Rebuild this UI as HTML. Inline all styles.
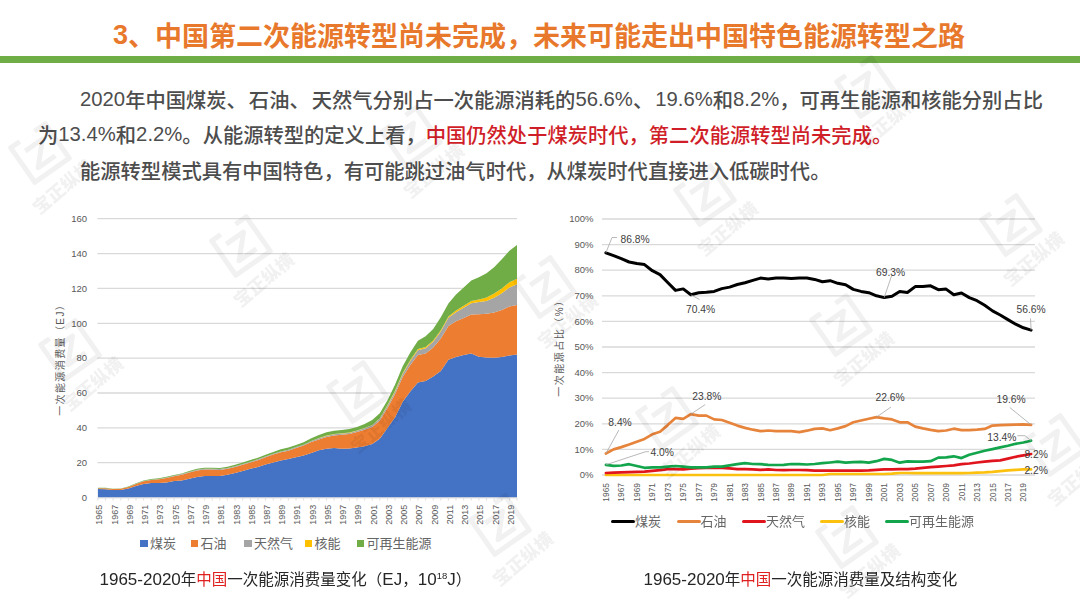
<!DOCTYPE html>
<html lang="zh-CN"><head><meta charset="utf-8"><title>中国第二次能源转型</title>
<style>
html,body{margin:0;padding:0;}
body{width:1080px;height:607px;position:relative;overflow:hidden;background:#fff;font-family:"Liberation Sans","Noto Sans CJK SC",sans-serif;}
.abs{position:absolute;white-space:nowrap;}
.title{left:113px;top:18.5px;font-size:27px;line-height:36px;font-weight:bold;color:#e8792c;}
.bar{left:0;top:55.6px;width:1080px;height:7px;background:#6fad47;}
.para{font-size:20.3px;line-height:34px;color:#4d4d4d;font-weight:500;}
.red{color:#d01e28;}
.d{position:relative;top:-2px;}
.pc{letter-spacing:2px;}
.d3{position:relative;top:-2px;}
.leg{font-size:13px;color:#666;line-height:16px;}
.sq{display:inline-block;width:7.6px;height:7.6px;vertical-align:middle;margin-right:2.5px;position:relative;top:-1px;}
.ln{display:inline-block;width:24px;height:3.6px;border-radius:2px;vertical-align:middle;position:relative;top:-0.5px;}
.cap{font-size:15.5px;color:#262626;line-height:20px;}
.cd{font-size:17px;position:relative;top:0px;}
.cap sup{font-size:9.5px;vertical-align:6px;line-height:0;}
.cap .red{color:#e02020;}
svg{position:absolute;left:0;top:0;}
svg text{font-family:"Liberation Sans","Noto Sans CJK SC",sans-serif;}
.ax{font-size:9.5px;fill:#595959;}
.ax2{font-size:8.4px;fill:#595959;}
.ax3{font-size:9px;fill:#595959;}
.yt{font-size:10px;fill:#595959;}
.dl{font-size:10.3px;fill:#404040;}
</style></head><body>
<div class="abs title"><span class="d3">3</span>、中国第二次能源转型尚未完成，未来可能走出中国特色能源转型之路</div>
<div class="abs bar"></div>
<div class="abs para" style="left:80px;top:83.5px;"><span class="d">2020</span>年中国煤炭<span class="pc">、</span>石油<span class="pc">、</span>天然气分别占一次能源消耗的<span class="d">56.6%</span><span class="pc">、</span><span class="d">19.6%</span>和<span class="d">8.2%</span>，可再生能源和核能分别占比</div>
<div class="abs para" style="left:38px;top:119px;">为<span class="d">13.4%</span>和<span class="d">2.2%</span>。从能源转型的定义上看，<span class="red">中国仍然处于煤炭时代，第二次能源转型尚未完成。</span></div>
<div class="abs para" style="left:80px;top:155px;">能源转型模式具有中国特色，有可能跳过油气时代，从煤炭时代直接进入低碳时代。</div>
<svg width="1080" height="607" viewBox="0 0 1080 607">
<g id="lc">
<line x1="97.4" y1="462.7" x2="517" y2="462.7" stroke="#d9d9d9" stroke-width="1.3"/>
<line x1="97.4" y1="427.9" x2="517" y2="427.9" stroke="#d9d9d9" stroke-width="1.3"/>
<line x1="97.4" y1="393" x2="517" y2="393" stroke="#d9d9d9" stroke-width="1.3"/>
<line x1="97.4" y1="358.2" x2="517" y2="358.2" stroke="#d9d9d9" stroke-width="1.3"/>
<line x1="97.4" y1="323.3" x2="517" y2="323.3" stroke="#d9d9d9" stroke-width="1.3"/>
<line x1="97.4" y1="288.4" x2="517" y2="288.4" stroke="#d9d9d9" stroke-width="1.3"/>
<line x1="97.4" y1="253.6" x2="517" y2="253.6" stroke="#d9d9d9" stroke-width="1.3"/>
<line x1="97.4" y1="218.7" x2="517" y2="218.7" stroke="#d9d9d9" stroke-width="1.3"/>
<text x="87" y="500.8" class="ax" text-anchor="end">0</text>
<text x="87" y="465.9" class="ax" text-anchor="end">20</text>
<text x="87" y="431.1" class="ax" text-anchor="end">40</text>
<text x="87" y="396.2" class="ax" text-anchor="end">60</text>
<text x="87" y="361.4" class="ax" text-anchor="end">80</text>
<text x="87" y="326.5" class="ax" text-anchor="end">100</text>
<text x="87" y="291.6" class="ax" text-anchor="end">120</text>
<text x="87" y="256.8" class="ax" text-anchor="end">140</text>
<text x="87" y="221.9" class="ax" text-anchor="end">160</text>
<path d="M97.9,489.1 L105.5,489.3 L113.1,490.1 L120.8,489.9 L128.4,488.6 L136,485.9 L143.6,484 L151.2,483.1 L158.9,483.1 L166.5,482.5 L174.1,481.1 L181.7,480.5 L189.3,478.8 L197,477.1 L204.6,476.1 L212.2,476 L219.8,475.9 L227.4,474.7 L235.1,473 L242.7,471 L250.3,468.8 L257.9,467.1 L265.5,464.6 L273.2,462.4 L280.8,460.6 L288.4,459 L296,457.2 L303.6,455.6 L311.3,452.9 L318.9,450.3 L326.5,448.8 L334.1,448.1 L341.7,448.7 L349.4,448.6 L357,447.4 L364.6,446.3 L372.2,444 L379.8,438.8 L387.5,428 L395.1,417.2 L402.7,401.7 L410.3,391.4 L417.9,382.5 L425.6,381.1 L433.2,376.6 L440.8,371 L448.4,359.8 L456,356.9 L463.7,355 L471.3,353.6 L478.9,356.7 L486.5,357.4 L494.1,357.7 L501.8,357.1 L509.4,355.5 L517,354.6 L517,497.6 L509.4,497.6 L501.8,497.6 L494.1,497.6 L486.5,497.6 L478.9,497.6 L471.3,497.6 L463.7,497.6 L456,497.6 L448.4,497.6 L440.8,497.6 L433.2,497.6 L425.6,497.6 L417.9,497.6 L410.3,497.6 L402.7,497.6 L395.1,497.6 L387.5,497.6 L379.8,497.6 L372.2,497.6 L364.6,497.6 L357,497.6 L349.4,497.6 L341.7,497.6 L334.1,497.6 L326.5,497.6 L318.9,497.6 L311.3,497.6 L303.6,497.6 L296,497.6 L288.4,497.6 L280.8,497.6 L273.2,497.6 L265.5,497.6 L257.9,497.6 L250.3,497.6 L242.7,497.6 L235.1,497.6 L227.4,497.6 L219.8,497.6 L212.2,497.6 L204.6,497.6 L197,497.6 L189.3,497.6 L181.7,497.6 L174.1,497.6 L166.5,497.6 L158.9,497.6 L151.2,497.6 L143.6,497.6 L136,497.6 L128.4,497.6 L120.8,497.6 L113.1,497.6 L105.5,497.6 L97.9,497.6Z" fill="#4472c4"/>
<path d="M97.9,488.3 L105.5,488.3 L113.1,489.1 L120.8,488.8 L128.4,487.1 L136,483.9 L143.6,481.3 L151.2,480 L158.9,479.3 L166.5,477.9 L174.1,476.2 L181.7,474.7 L189.3,472.6 L197,470.5 L204.6,469.6 L212.2,469.6 L219.8,469.9 L227.4,468.8 L235.1,466.9 L242.7,464.8 L250.3,462.4 L257.9,460.2 L265.5,457.2 L273.2,454.6 L280.8,452.3 L288.4,450.7 L296,448.1 L303.6,445.6 L311.3,442.1 L318.9,439.4 L326.5,437 L334.1,435.4 L341.7,434.8 L349.4,434 L357,431.9 L364.6,429.8 L372.2,426.9 L379.8,420.5 L387.5,408 L395.1,394 L402.7,377.1 L410.3,365.1 L417.9,355.1 L425.6,353.6 L433.2,347.6 L440.8,338.4 L448.4,325.9 L456,321.3 L463.7,317.9 L471.3,314.5 L478.9,314.2 L486.5,313.7 L494.1,312.5 L501.8,310.1 L509.4,306.6 L517,305 L517,354.6 L509.4,355.5 L501.8,357.1 L494.1,357.7 L486.5,357.4 L478.9,356.7 L471.3,353.6 L463.7,355 L456,356.9 L448.4,359.8 L440.8,371 L433.2,376.6 L425.6,381.1 L417.9,382.5 L410.3,391.4 L402.7,401.7 L395.1,417.2 L387.5,428 L379.8,438.8 L372.2,444 L364.6,446.3 L357,447.4 L349.4,448.6 L341.7,448.7 L334.1,448.1 L326.5,448.8 L318.9,450.3 L311.3,452.9 L303.6,455.6 L296,457.2 L288.4,459 L280.8,460.6 L273.2,462.4 L265.5,464.6 L257.9,467.1 L250.3,468.8 L242.7,471 L235.1,473 L227.4,474.7 L219.8,475.9 L212.2,476 L204.6,476.1 L197,477.1 L189.3,478.8 L181.7,480.5 L174.1,481.1 L166.5,482.5 L158.9,483.1 L151.2,483.1 L143.6,484 L136,485.9 L128.4,488.6 L120.8,489.9 L113.1,490.1 L105.5,489.3 L97.9,489.1Z" fill="#ed7d31"/>
<path d="M97.9,488.2 L105.5,488.2 L113.1,489 L120.8,488.7 L128.4,487 L136,483.7 L143.6,481 L151.2,479.7 L158.9,478.9 L166.5,477.4 L174.1,475.7 L181.7,474.1 L189.3,471.9 L197,469.7 L204.6,468.8 L212.2,468.8 L219.8,469.1 L227.4,468 L235.1,466.2 L242.7,464.1 L250.3,461.7 L257.9,459.3 L265.5,456.4 L273.2,453.8 L280.8,451.4 L288.4,449.7 L296,447.1 L303.6,444.7 L311.3,441.1 L318.9,438.3 L326.5,435.9 L334.1,434.3 L341.7,433.6 L349.4,432.9 L357,430.7 L364.6,428.3 L372.2,425.2 L379.8,418.6 L387.5,405.8 L395.1,391.4 L402.7,373.9 L410.3,361.1 L417.9,350.2 L425.6,348.3 L433.2,341.7 L440.8,331.6 L448.4,317.8 L456,312.2 L463.7,307.7 L471.3,303.2 L478.9,302.1 L486.5,300.9 L494.1,297.8 L501.8,293.2 L509.4,287.6 L517,284.3 L517,305 L509.4,306.6 L501.8,310.1 L494.1,312.5 L486.5,313.7 L478.9,314.2 L471.3,314.5 L463.7,317.9 L456,321.3 L448.4,325.9 L440.8,338.4 L433.2,347.6 L425.6,353.6 L417.9,355.1 L410.3,365.1 L402.7,377.1 L395.1,394 L387.5,408 L379.8,420.5 L372.2,426.9 L364.6,429.8 L357,431.9 L349.4,434 L341.7,434.8 L334.1,435.4 L326.5,437 L318.9,439.4 L311.3,442.1 L303.6,445.6 L296,448.1 L288.4,450.7 L280.8,452.3 L273.2,454.6 L265.5,457.2 L257.9,460.2 L250.3,462.4 L242.7,464.8 L235.1,466.9 L227.4,468.8 L219.8,469.9 L212.2,469.6 L204.6,469.6 L197,470.5 L189.3,472.6 L181.7,474.7 L174.1,476.2 L166.5,477.9 L158.9,479.3 L151.2,480 L143.6,481.3 L136,483.9 L128.4,487.1 L120.8,488.8 L113.1,489.1 L105.5,488.3 L97.9,488.3Z" fill="#a5a5a5"/>
<path d="M97.9,488.2 L105.5,488.2 L113.1,489 L120.8,488.7 L128.4,487 L136,483.7 L143.6,481 L151.2,479.7 L158.9,478.9 L166.5,477.4 L174.1,475.7 L181.7,474.1 L189.3,471.9 L197,469.7 L204.6,468.8 L212.2,468.8 L219.8,469.1 L227.4,468 L235.1,466.2 L242.7,464.1 L250.3,461.7 L257.9,459.3 L265.5,456.4 L273.2,453.8 L280.8,451.4 L288.4,449.7 L296,447.1 L303.6,444.7 L311.3,441.1 L318.9,438.1 L326.5,435.6 L334.1,434 L341.7,433.3 L349.4,432.6 L357,430.4 L364.6,428 L372.2,424.9 L379.8,418.2 L387.5,405 L395.1,390.5 L402.7,373 L410.3,360.1 L417.9,349.1 L425.6,347.1 L433.2,340.6 L440.8,330.3 L448.4,316.4 L456,310.6 L463.7,305.8 L471.3,301.1 L478.9,299.5 L486.5,297.5 L494.1,293.6 L501.8,288.4 L509.4,282.2 L517,278.7 L517,284.3 L509.4,287.6 L501.8,293.2 L494.1,297.8 L486.5,300.9 L478.9,302.1 L471.3,303.2 L463.7,307.7 L456,312.2 L448.4,317.8 L440.8,331.6 L433.2,341.7 L425.6,348.3 L417.9,350.2 L410.3,361.1 L402.7,373.9 L395.1,391.4 L387.5,405.8 L379.8,418.6 L372.2,425.2 L364.6,428.3 L357,430.7 L349.4,432.9 L341.7,433.6 L334.1,434.3 L326.5,435.9 L318.9,438.3 L311.3,441.1 L303.6,444.7 L296,447.1 L288.4,449.7 L280.8,451.4 L273.2,453.8 L265.5,456.4 L257.9,459.3 L250.3,461.7 L242.7,464.1 L235.1,466.2 L227.4,468 L219.8,469.1 L212.2,468.8 L204.6,468.8 L197,469.7 L189.3,471.9 L181.7,474.1 L174.1,475.7 L166.5,477.4 L158.9,478.9 L151.2,479.7 L143.6,481 L136,483.7 L128.4,487 L120.8,488.7 L113.1,489 L105.5,488.2 L97.9,488.2Z" fill="#ffc000"/>
<path d="M97.9,487.8 L105.5,487.8 L113.1,488.7 L120.8,488.4 L128.4,486.6 L136,483.3 L143.6,480.5 L151.2,479.1 L158.9,478.3 L166.5,476.7 L174.1,474.9 L181.7,473.4 L189.3,471.1 L197,468.8 L204.6,467.8 L212.2,467.8 L219.8,468 L227.4,466.7 L235.1,464.7 L242.7,462.6 L250.3,460.1 L257.9,457.7 L265.5,454.7 L273.2,451.9 L280.8,449.3 L288.4,447.6 L296,445 L303.6,442.3 L311.3,438.3 L318.9,435 L326.5,432.2 L334.1,430.8 L341.7,430 L349.4,429.1 L357,427 L364.6,424 L372.2,420 L379.8,413.2 L387.5,400.3 L395.1,384.5 L402.7,366.2 L410.3,352.6 L417.9,340.7 L425.6,336.2 L433.2,329.1 L440.8,317.2 L448.4,303.6 L456,294.5 L463.7,287.6 L471.3,280.4 L478.9,277.3 L486.5,273.3 L494.1,267.3 L501.8,259.3 L509.4,250.8 L517,244.9 L517,278.7 L509.4,282.2 L501.8,288.4 L494.1,293.6 L486.5,297.5 L478.9,299.5 L471.3,301.1 L463.7,305.8 L456,310.6 L448.4,316.4 L440.8,330.3 L433.2,340.6 L425.6,347.1 L417.9,349.1 L410.3,360.1 L402.7,373 L395.1,390.5 L387.5,405 L379.8,418.2 L372.2,424.9 L364.6,428 L357,430.4 L349.4,432.6 L341.7,433.3 L334.1,434 L326.5,435.6 L318.9,438.1 L311.3,441.1 L303.6,444.7 L296,447.1 L288.4,449.7 L280.8,451.4 L273.2,453.8 L265.5,456.4 L257.9,459.3 L250.3,461.7 L242.7,464.1 L235.1,466.2 L227.4,468 L219.8,469.1 L212.2,468.8 L204.6,468.8 L197,469.7 L189.3,471.9 L181.7,474.1 L174.1,475.7 L166.5,477.4 L158.9,478.9 L151.2,479.7 L143.6,481 L136,483.7 L128.4,487 L120.8,488.7 L113.1,489 L105.5,488.2 L97.9,488.2Z" fill="#70ad47"/>
<line x1="97.9" y1="497.9" x2="517" y2="497.9" stroke="#d9d9d9" stroke-width="1"/>
<line x1="97.9" y1="497.6" x2="97.9" y2="500.6" stroke="#d9d9d9" stroke-width="0.8"/>
<line x1="105.5" y1="497.6" x2="105.5" y2="500.6" stroke="#d9d9d9" stroke-width="0.8"/>
<line x1="113.1" y1="497.6" x2="113.1" y2="500.6" stroke="#d9d9d9" stroke-width="0.8"/>
<line x1="120.8" y1="497.6" x2="120.8" y2="500.6" stroke="#d9d9d9" stroke-width="0.8"/>
<line x1="128.4" y1="497.6" x2="128.4" y2="500.6" stroke="#d9d9d9" stroke-width="0.8"/>
<line x1="136" y1="497.6" x2="136" y2="500.6" stroke="#d9d9d9" stroke-width="0.8"/>
<line x1="143.6" y1="497.6" x2="143.6" y2="500.6" stroke="#d9d9d9" stroke-width="0.8"/>
<line x1="151.2" y1="497.6" x2="151.2" y2="500.6" stroke="#d9d9d9" stroke-width="0.8"/>
<line x1="158.9" y1="497.6" x2="158.9" y2="500.6" stroke="#d9d9d9" stroke-width="0.8"/>
<line x1="166.5" y1="497.6" x2="166.5" y2="500.6" stroke="#d9d9d9" stroke-width="0.8"/>
<line x1="174.1" y1="497.6" x2="174.1" y2="500.6" stroke="#d9d9d9" stroke-width="0.8"/>
<line x1="181.7" y1="497.6" x2="181.7" y2="500.6" stroke="#d9d9d9" stroke-width="0.8"/>
<line x1="189.3" y1="497.6" x2="189.3" y2="500.6" stroke="#d9d9d9" stroke-width="0.8"/>
<line x1="197" y1="497.6" x2="197" y2="500.6" stroke="#d9d9d9" stroke-width="0.8"/>
<line x1="204.6" y1="497.6" x2="204.6" y2="500.6" stroke="#d9d9d9" stroke-width="0.8"/>
<line x1="212.2" y1="497.6" x2="212.2" y2="500.6" stroke="#d9d9d9" stroke-width="0.8"/>
<line x1="219.8" y1="497.6" x2="219.8" y2="500.6" stroke="#d9d9d9" stroke-width="0.8"/>
<line x1="227.4" y1="497.6" x2="227.4" y2="500.6" stroke="#d9d9d9" stroke-width="0.8"/>
<line x1="235.1" y1="497.6" x2="235.1" y2="500.6" stroke="#d9d9d9" stroke-width="0.8"/>
<line x1="242.7" y1="497.6" x2="242.7" y2="500.6" stroke="#d9d9d9" stroke-width="0.8"/>
<line x1="250.3" y1="497.6" x2="250.3" y2="500.6" stroke="#d9d9d9" stroke-width="0.8"/>
<line x1="257.9" y1="497.6" x2="257.9" y2="500.6" stroke="#d9d9d9" stroke-width="0.8"/>
<line x1="265.5" y1="497.6" x2="265.5" y2="500.6" stroke="#d9d9d9" stroke-width="0.8"/>
<line x1="273.2" y1="497.6" x2="273.2" y2="500.6" stroke="#d9d9d9" stroke-width="0.8"/>
<line x1="280.8" y1="497.6" x2="280.8" y2="500.6" stroke="#d9d9d9" stroke-width="0.8"/>
<line x1="288.4" y1="497.6" x2="288.4" y2="500.6" stroke="#d9d9d9" stroke-width="0.8"/>
<line x1="296" y1="497.6" x2="296" y2="500.6" stroke="#d9d9d9" stroke-width="0.8"/>
<line x1="303.6" y1="497.6" x2="303.6" y2="500.6" stroke="#d9d9d9" stroke-width="0.8"/>
<line x1="311.3" y1="497.6" x2="311.3" y2="500.6" stroke="#d9d9d9" stroke-width="0.8"/>
<line x1="318.9" y1="497.6" x2="318.9" y2="500.6" stroke="#d9d9d9" stroke-width="0.8"/>
<line x1="326.5" y1="497.6" x2="326.5" y2="500.6" stroke="#d9d9d9" stroke-width="0.8"/>
<line x1="334.1" y1="497.6" x2="334.1" y2="500.6" stroke="#d9d9d9" stroke-width="0.8"/>
<line x1="341.7" y1="497.6" x2="341.7" y2="500.6" stroke="#d9d9d9" stroke-width="0.8"/>
<line x1="349.4" y1="497.6" x2="349.4" y2="500.6" stroke="#d9d9d9" stroke-width="0.8"/>
<line x1="357" y1="497.6" x2="357" y2="500.6" stroke="#d9d9d9" stroke-width="0.8"/>
<line x1="364.6" y1="497.6" x2="364.6" y2="500.6" stroke="#d9d9d9" stroke-width="0.8"/>
<line x1="372.2" y1="497.6" x2="372.2" y2="500.6" stroke="#d9d9d9" stroke-width="0.8"/>
<line x1="379.8" y1="497.6" x2="379.8" y2="500.6" stroke="#d9d9d9" stroke-width="0.8"/>
<line x1="387.5" y1="497.6" x2="387.5" y2="500.6" stroke="#d9d9d9" stroke-width="0.8"/>
<line x1="395.1" y1="497.6" x2="395.1" y2="500.6" stroke="#d9d9d9" stroke-width="0.8"/>
<line x1="402.7" y1="497.6" x2="402.7" y2="500.6" stroke="#d9d9d9" stroke-width="0.8"/>
<line x1="410.3" y1="497.6" x2="410.3" y2="500.6" stroke="#d9d9d9" stroke-width="0.8"/>
<line x1="417.9" y1="497.6" x2="417.9" y2="500.6" stroke="#d9d9d9" stroke-width="0.8"/>
<line x1="425.6" y1="497.6" x2="425.6" y2="500.6" stroke="#d9d9d9" stroke-width="0.8"/>
<line x1="433.2" y1="497.6" x2="433.2" y2="500.6" stroke="#d9d9d9" stroke-width="0.8"/>
<line x1="440.8" y1="497.6" x2="440.8" y2="500.6" stroke="#d9d9d9" stroke-width="0.8"/>
<line x1="448.4" y1="497.6" x2="448.4" y2="500.6" stroke="#d9d9d9" stroke-width="0.8"/>
<line x1="456" y1="497.6" x2="456" y2="500.6" stroke="#d9d9d9" stroke-width="0.8"/>
<line x1="463.7" y1="497.6" x2="463.7" y2="500.6" stroke="#d9d9d9" stroke-width="0.8"/>
<line x1="471.3" y1="497.6" x2="471.3" y2="500.6" stroke="#d9d9d9" stroke-width="0.8"/>
<line x1="478.9" y1="497.6" x2="478.9" y2="500.6" stroke="#d9d9d9" stroke-width="0.8"/>
<line x1="486.5" y1="497.6" x2="486.5" y2="500.6" stroke="#d9d9d9" stroke-width="0.8"/>
<line x1="494.1" y1="497.6" x2="494.1" y2="500.6" stroke="#d9d9d9" stroke-width="0.8"/>
<line x1="501.8" y1="497.6" x2="501.8" y2="500.6" stroke="#d9d9d9" stroke-width="0.8"/>
<line x1="509.4" y1="497.6" x2="509.4" y2="500.6" stroke="#d9d9d9" stroke-width="0.8"/>
<line x1="517" y1="497.6" x2="517" y2="500.6" stroke="#d9d9d9" stroke-width="0.8"/>
<text transform="translate(102.3,504.8) rotate(-90)" class="ax3" text-anchor="end">1965</text>
<text transform="translate(117.5,504.8) rotate(-90)" class="ax3" text-anchor="end">1967</text>
<text transform="translate(132.8,504.8) rotate(-90)" class="ax3" text-anchor="end">1969</text>
<text transform="translate(148,504.8) rotate(-90)" class="ax3" text-anchor="end">1971</text>
<text transform="translate(163.3,504.8) rotate(-90)" class="ax3" text-anchor="end">1973</text>
<text transform="translate(178.5,504.8) rotate(-90)" class="ax3" text-anchor="end">1975</text>
<text transform="translate(193.7,504.8) rotate(-90)" class="ax3" text-anchor="end">1977</text>
<text transform="translate(209,504.8) rotate(-90)" class="ax3" text-anchor="end">1979</text>
<text transform="translate(224.2,504.8) rotate(-90)" class="ax3" text-anchor="end">1981</text>
<text transform="translate(239.5,504.8) rotate(-90)" class="ax3" text-anchor="end">1983</text>
<text transform="translate(254.7,504.8) rotate(-90)" class="ax3" text-anchor="end">1985</text>
<text transform="translate(269.9,504.8) rotate(-90)" class="ax3" text-anchor="end">1987</text>
<text transform="translate(285.2,504.8) rotate(-90)" class="ax3" text-anchor="end">1989</text>
<text transform="translate(300.4,504.8) rotate(-90)" class="ax3" text-anchor="end">1991</text>
<text transform="translate(315.7,504.8) rotate(-90)" class="ax3" text-anchor="end">1993</text>
<text transform="translate(330.9,504.8) rotate(-90)" class="ax3" text-anchor="end">1995</text>
<text transform="translate(346.1,504.8) rotate(-90)" class="ax3" text-anchor="end">1997</text>
<text transform="translate(361.4,504.8) rotate(-90)" class="ax3" text-anchor="end">1999</text>
<text transform="translate(376.6,504.8) rotate(-90)" class="ax3" text-anchor="end">2001</text>
<text transform="translate(391.9,504.8) rotate(-90)" class="ax3" text-anchor="end">2003</text>
<text transform="translate(407.1,504.8) rotate(-90)" class="ax3" text-anchor="end">2005</text>
<text transform="translate(422.3,504.8) rotate(-90)" class="ax3" text-anchor="end">2007</text>
<text transform="translate(437.6,504.8) rotate(-90)" class="ax3" text-anchor="end">2009</text>
<text transform="translate(452.8,504.8) rotate(-90)" class="ax3" text-anchor="end">2011</text>
<text transform="translate(468.1,504.8) rotate(-90)" class="ax3" text-anchor="end">2013</text>
<text transform="translate(483.3,504.8) rotate(-90)" class="ax3" text-anchor="end">2015</text>
<text transform="translate(498.5,504.8) rotate(-90)" class="ax3" text-anchor="end">2017</text>
<text transform="translate(513.8,504.8) rotate(-90)" class="ax3" text-anchor="end">2019</text>
<text transform="translate(64,357.3) rotate(-90)" class="yt" text-anchor="middle" letter-spacing="1.4">一次能源消费量（EJ）</text>
</g>
<g id="rc">
<line x1="602" y1="475" x2="1035" y2="475" stroke="#d9d9d9" stroke-width="1.3"/>
<text x="593.5" y="478.2" class="ax" text-anchor="end">0%</text>
<line x1="602" y1="449.4" x2="1035" y2="449.4" stroke="#d9d9d9" stroke-width="1.3"/>
<text x="593.5" y="452.6" class="ax" text-anchor="end">10%</text>
<line x1="602" y1="423.8" x2="1035" y2="423.8" stroke="#d9d9d9" stroke-width="1.3"/>
<text x="593.5" y="427" class="ax" text-anchor="end">20%</text>
<line x1="602" y1="398.2" x2="1035" y2="398.2" stroke="#d9d9d9" stroke-width="1.3"/>
<text x="593.5" y="401.4" class="ax" text-anchor="end">30%</text>
<line x1="602" y1="372.6" x2="1035" y2="372.6" stroke="#d9d9d9" stroke-width="1.3"/>
<text x="593.5" y="375.8" class="ax" text-anchor="end">40%</text>
<line x1="602" y1="347" x2="1035" y2="347" stroke="#d9d9d9" stroke-width="1.3"/>
<text x="593.5" y="350.2" class="ax" text-anchor="end">50%</text>
<line x1="602" y1="321.4" x2="1035" y2="321.4" stroke="#d9d9d9" stroke-width="1.3"/>
<text x="593.5" y="324.6" class="ax" text-anchor="end">60%</text>
<line x1="602" y1="295.8" x2="1035" y2="295.8" stroke="#d9d9d9" stroke-width="1.3"/>
<text x="593.5" y="299" class="ax" text-anchor="end">70%</text>
<line x1="602" y1="270.2" x2="1035" y2="270.2" stroke="#d9d9d9" stroke-width="1.3"/>
<text x="593.5" y="273.4" class="ax" text-anchor="end">80%</text>
<line x1="602" y1="244.6" x2="1035" y2="244.6" stroke="#d9d9d9" stroke-width="1.3"/>
<text x="593.5" y="247.8" class="ax" text-anchor="end">90%</text>
<line x1="602" y1="219" x2="1035" y2="219" stroke="#d9d9d9" stroke-width="1.3"/>
<text x="593.5" y="222.2" class="ax" text-anchor="end">100%</text>
<text transform="translate(608.9,483) rotate(-90)" class="ax2" text-anchor="end">1965</text>
<text transform="translate(624.3,483) rotate(-90)" class="ax2" text-anchor="end">1967</text>
<text transform="translate(639.8,483) rotate(-90)" class="ax2" text-anchor="end">1969</text>
<text transform="translate(655.3,483) rotate(-90)" class="ax2" text-anchor="end">1971</text>
<text transform="translate(670.7,483) rotate(-90)" class="ax2" text-anchor="end">1973</text>
<text transform="translate(686.2,483) rotate(-90)" class="ax2" text-anchor="end">1975</text>
<text transform="translate(701.7,483) rotate(-90)" class="ax2" text-anchor="end">1977</text>
<text transform="translate(717.1,483) rotate(-90)" class="ax2" text-anchor="end">1979</text>
<text transform="translate(732.6,483) rotate(-90)" class="ax2" text-anchor="end">1981</text>
<text transform="translate(748,483) rotate(-90)" class="ax2" text-anchor="end">1983</text>
<text transform="translate(763.5,483) rotate(-90)" class="ax2" text-anchor="end">1985</text>
<text transform="translate(779,483) rotate(-90)" class="ax2" text-anchor="end">1987</text>
<text transform="translate(794.4,483) rotate(-90)" class="ax2" text-anchor="end">1989</text>
<text transform="translate(809.9,483) rotate(-90)" class="ax2" text-anchor="end">1991</text>
<text transform="translate(825.4,483) rotate(-90)" class="ax2" text-anchor="end">1993</text>
<text transform="translate(840.8,483) rotate(-90)" class="ax2" text-anchor="end">1995</text>
<text transform="translate(856.3,483) rotate(-90)" class="ax2" text-anchor="end">1997</text>
<text transform="translate(871.8,483) rotate(-90)" class="ax2" text-anchor="end">1999</text>
<text transform="translate(887.2,483) rotate(-90)" class="ax2" text-anchor="end">2001</text>
<text transform="translate(902.7,483) rotate(-90)" class="ax2" text-anchor="end">2003</text>
<text transform="translate(918.2,483) rotate(-90)" class="ax2" text-anchor="end">2005</text>
<text transform="translate(933.6,483) rotate(-90)" class="ax2" text-anchor="end">2007</text>
<text transform="translate(949.1,483) rotate(-90)" class="ax2" text-anchor="end">2009</text>
<text transform="translate(964.5,483) rotate(-90)" class="ax2" text-anchor="end">2011</text>
<text transform="translate(980,483) rotate(-90)" class="ax2" text-anchor="end">2013</text>
<text transform="translate(995.5,483) rotate(-90)" class="ax2" text-anchor="end">2015</text>
<text transform="translate(1010.9,483) rotate(-90)" class="ax2" text-anchor="end">2017</text>
<text transform="translate(1026.4,483) rotate(-90)" class="ax2" text-anchor="end">2019</text>
<text transform="translate(563,345.6) rotate(-90)" class="yt" text-anchor="middle" letter-spacing="1.5">一次能源占比（%）</text>
<path d="M605.9,475 L613.6,475 L621.3,475 L629.1,475 L636.8,475 L644.5,475 L652.3,475 L660,475 L667.7,475 L675.5,475 L683.2,475 L690.9,475 L698.7,475 L706.4,475 L714.1,475 L721.8,475 L729.6,475 L737.3,475 L745,475 L752.8,475 L760.5,475 L768.2,475 L776,475 L783.7,475 L791.4,475 L799.2,475 L806.9,475 L814.6,475 L822.4,475 L830.1,474 L837.8,474 L845.6,474 L853.3,474 L861,474 L868.8,474 L876.5,474 L884.2,474 L892,473.7 L899.7,473 L907.4,473 L915.2,473.2 L922.9,473.2 L930.6,473.2 L938.3,473.2 L946.1,473.2 L953.8,473.2 L961.5,473.2 L969.3,473 L977,472.7 L984.7,472.4 L992.5,471.9 L1000.2,471.2 L1007.9,470.4 L1015.7,469.9 L1023.4,469.4 L1031.1,469.4" fill="none" stroke="#fcc10e" stroke-width="2.7" stroke-linejoin="round" stroke-linecap="round"/>
<path d="M605.9,473 L613.6,472.7 L621.3,472.4 L629.1,472.2 L636.8,471.9 L644.5,471.7 L652.3,470.9 L660,470.1 L667.7,469.1 L675.5,469.1 L683.2,469.4 L690.9,468.6 L698.7,468.1 L706.4,467.8 L714.1,467.8 L721.8,467.8 L729.6,468.3 L737.3,469.1 L745,469.1 L752.8,469.4 L760.5,469.9 L768.2,469.4 L776,470 L783.7,470.1 L791.4,470 L799.2,470 L806.9,470.1 L814.6,470.6 L822.4,470.6 L830.1,470.6 L837.8,470.6 L845.6,470.6 L853.3,470.6 L861,470.6 L868.8,470.4 L876.5,469.9 L884.2,469.4 L892,469.4 L899.7,469.1 L907.4,469.1 L915.2,468.6 L922.9,467.8 L930.6,467.1 L938.3,466.6 L946.1,466 L953.8,465.3 L961.5,464.2 L969.3,463.5 L977,462.5 L984.7,461.7 L992.5,460.9 L1000.2,460.4 L1007.9,458.6 L1015.7,456.8 L1023.4,455.3 L1031.1,454" fill="none" stroke="#e0141c" stroke-width="2.7" stroke-linejoin="round" stroke-linecap="round"/>
<path d="M605.9,464.8 L613.6,465.8 L621.3,465.5 L629.1,464.2 L636.8,466 L644.5,467.8 L652.3,467.3 L660,467.3 L667.7,466.6 L675.5,466 L683.2,466.6 L690.9,467.3 L698.7,467.3 L706.4,467.3 L714.1,466.6 L721.8,466.6 L729.6,465.3 L737.3,464.2 L745,463.2 L752.8,464 L760.5,464.2 L768.2,464.8 L776,465 L783.7,464.8 L791.4,464 L799.2,464.2 L806.9,464.5 L814.6,464 L822.4,463.2 L830.1,462.5 L837.8,461.7 L845.6,462.7 L853.3,462.2 L861,461.9 L868.8,462.7 L876.5,461.2 L884.2,458.9 L892,459.9 L899.7,462.7 L907.4,461.4 L915.2,461.7 L922.9,461.7 L930.6,461.2 L938.3,457.6 L946.1,457.3 L953.8,456.3 L961.5,458.1 L969.3,454.8 L977,452.7 L984.7,450.7 L992.5,449.1 L1000.2,447.4 L1007.9,445.8 L1015.7,443.8 L1023.4,442.5 L1031.1,440.7" fill="none" stroke="#12a54b" stroke-width="2.7" stroke-linejoin="round" stroke-linecap="round"/>
<path d="M605.9,453.5 L613.6,449.4 L621.3,447.1 L629.1,444.5 L636.8,441.7 L644.5,438.9 L652.3,434.3 L660,431.7 L667.7,425.1 L675.5,417.9 L683.2,418.9 L690.9,414.1 L698.7,415.6 L706.4,415.6 L714.1,419.4 L721.8,420 L729.6,422.8 L737.3,425.6 L745,427.9 L752.8,429.7 L760.5,431.2 L768.2,430.5 L776,431.2 L783.7,431.2 L791.4,431.2 L799.2,432.2 L806.9,430.7 L814.6,428.9 L822.4,428.4 L830.1,430.2 L837.8,428.4 L845.6,426.1 L853.3,422.3 L861,420.5 L868.8,418.7 L876.5,417.1 L884.2,418.4 L892,419.4 L899.7,422.3 L907.4,422.3 L915.2,426.6 L922.9,428.4 L930.6,429.9 L938.3,431.2 L946.1,430.5 L953.8,428.7 L961.5,430.2 L969.3,430.2 L977,429.7 L984.7,428.9 L992.5,425.6 L1000.2,425.1 L1007.9,424.8 L1015.7,424.6 L1023.4,424.3 L1031.1,424.8" fill="none" stroke="#e7843c" stroke-width="2.7" stroke-linejoin="round" stroke-linecap="round"/>
<path d="M605.9,252.8 L613.6,255.6 L621.3,258.7 L629.1,262 L636.8,263.5 L644.5,264.6 L652.3,270.7 L660,274.6 L667.7,282.5 L675.5,290.4 L683.2,288.9 L690.9,294.8 L698.7,292.7 L706.4,292.2 L714.1,291.4 L721.8,288.6 L729.6,287.1 L737.3,284.5 L745,282.7 L752.8,280.4 L760.5,278.1 L768.2,278.9 L776,277.9 L783.7,277.9 L791.4,278.4 L799.2,277.9 L806.9,278.1 L814.6,279.4 L822.4,281.7 L830.1,280.7 L837.8,283.3 L845.6,284.8 L853.3,289.4 L861,291.4 L868.8,292.7 L876.5,295.8 L884.2,297.6 L892,296.3 L899.7,291.4 L907.4,292.5 L915.2,286.6 L922.9,286.6 L930.6,285.8 L938.3,289.7 L946.1,289.1 L953.8,294.8 L961.5,293 L969.3,297.6 L977,300.7 L984.7,305.3 L992.5,310.9 L1000.2,315 L1007.9,319.6 L1015.7,324.2 L1023.4,327.8 L1031.1,330.1" fill="none" stroke="#000000" stroke-width="3.0" stroke-linejoin="round" stroke-linecap="round"/>
<path d="M605.9,252.8 L612,237.5 L617,237.5" fill="none" stroke="#a6a6a6" stroke-width="0.8"/>
<text x="620.5" y="242.5" class="dl">86.8%</text>
<path d="M690.9,294.8 L699.5,299.5" fill="none" stroke="#a6a6a6" stroke-width="0.8"/>
<text x="686" y="313" class="dl">70.4%</text>
<path d="M884.2,297.6 L891.5,276" fill="none" stroke="#a6a6a6" stroke-width="0.8"/>
<text x="876" y="275.5" class="dl">69.3%</text>
<path d="M1031.1,330.1 L1030.5,318.4" fill="none" stroke="#a6a6a6" stroke-width="0.8"/>
<text x="1016.5" y="313.3" class="dl">56.6%</text>
<path d="M605.9,453.5 L618.9,430" fill="none" stroke="#a6a6a6" stroke-width="0.8"/>
<text x="608.3" y="425.5" class="dl">8.4%</text>
<path d="M605.9,464.8 L645.6,451.7 L649,451.7" fill="none" stroke="#a6a6a6" stroke-width="0.8"/>
<text x="650.5" y="456" class="dl">4.0%</text>
<path d="M690.9,414.1 L705.2,404.6" fill="none" stroke="#a6a6a6" stroke-width="0.8"/>
<text x="692.2" y="399.8" class="dl">23.8%</text>
<path d="M876.5,417.1 L891,407" fill="none" stroke="#a6a6a6" stroke-width="0.8"/>
<text x="875.5" y="400.5" class="dl">22.6%</text>
<path d="M1031.1,424.8 L1009.8,407.5" fill="none" stroke="#a6a6a6" stroke-width="0.8"/>
<text x="996.5" y="402.5" class="dl">19.6%</text>
<path d="M1031.1,440.7 L1025,435.7 L1017.3,435.7" fill="none" stroke="#a6a6a6" stroke-width="0.8"/>
<text x="987.3" y="440.5" class="dl">13.4%</text>
<path d="M" fill="none" stroke="#a6a6a6" stroke-width="0.8"/>
<text x="1024.4" y="458" class="dl">8.2%</text>
<path d="M" fill="none" stroke="#a6a6a6" stroke-width="0.8"/>
<text x="1024.4" y="474" class="dl">2.2%</text>
</g>
<g id="wm" opacity="0.055">
<g transform="translate(40,153) rotate(-35)"><path d="M-10,-21 L-21,-21 L-21,21 L21,21 L21,-21 L8,-21 M-11,-10 L10,-10 L-10,11 L11,11" fill="none" stroke="#000" stroke-width="5" stroke-linejoin="round"/></g>
<text transform="translate(67,192) rotate(-40)" text-anchor="middle" font-size="18" font-weight="900" fill="#000">宝正纵横</text>
<g transform="translate(241,246) rotate(-35)"><path d="M-10,-21 L-21,-21 L-21,21 L21,21 L21,-21 L8,-21 M-11,-10 L10,-10 L-10,11 L11,11" fill="none" stroke="#000" stroke-width="5" stroke-linejoin="round"/></g>
<text transform="translate(268,285) rotate(-40)" text-anchor="middle" font-size="18" font-weight="900" fill="#000">宝正纵横</text>
<g transform="translate(411,137) rotate(-35)"><path d="M-10,-21 L-21,-21 L-21,21 L21,21 L21,-21 L8,-21 M-11,-10 L10,-10 L-10,11 L11,11" fill="none" stroke="#000" stroke-width="5" stroke-linejoin="round"/></g>
<text transform="translate(438,176) rotate(-40)" text-anchor="middle" font-size="18" font-weight="900" fill="#000">宝正纵横</text>
<g transform="translate(705,195) rotate(-35)"><path d="M-10,-21 L-21,-21 L-21,21 L21,21 L21,-21 L8,-21 M-11,-10 L10,-10 L-10,11 L11,11" fill="none" stroke="#000" stroke-width="5" stroke-linejoin="round"/></g>
<text transform="translate(732,234) rotate(-40)" text-anchor="middle" font-size="18" font-weight="900" fill="#000">宝正纵横</text>
<g transform="translate(841,325) rotate(-35)"><path d="M-10,-21 L-21,-21 L-21,21 L21,21 L21,-21 L8,-21 M-11,-10 L10,-10 L-10,11 L11,11" fill="none" stroke="#000" stroke-width="5" stroke-linejoin="round"/></g>
<text transform="translate(868,364) rotate(-40)" text-anchor="middle" font-size="18" font-weight="900" fill="#000">宝正纵横</text>
<g transform="translate(667,418) rotate(-35)"><path d="M-10,-21 L-21,-21 L-21,21 L21,21 L21,-21 L8,-21 M-11,-10 L10,-10 L-10,11 L11,11" fill="none" stroke="#000" stroke-width="5" stroke-linejoin="round"/></g>
<text transform="translate(694,457) rotate(-40)" text-anchor="middle" font-size="18" font-weight="900" fill="#000">宝正纵横</text>
<g transform="translate(1011,225) rotate(-35)"><path d="M-10,-21 L-21,-21 L-21,21 L21,21 L21,-21 L8,-21 M-11,-10 L10,-10 L-10,11 L11,11" fill="none" stroke="#000" stroke-width="5" stroke-linejoin="round"/></g>
<text transform="translate(1038,264) rotate(-40)" text-anchor="middle" font-size="18" font-weight="900" fill="#000">宝正纵横</text>
<g transform="translate(358,392) rotate(-35)"><path d="M-10,-21 L-21,-21 L-21,21 L21,21 L21,-21 L8,-21 M-11,-10 L10,-10 L-10,11 L11,11" fill="none" stroke="#000" stroke-width="5" stroke-linejoin="round"/></g>
<text transform="translate(385,431) rotate(-40)" text-anchor="middle" font-size="18" font-weight="900" fill="#000">宝正纵横</text>
<g transform="translate(847,537) rotate(-35)"><path d="M-10,-21 L-21,-21 L-21,21 L21,21 L21,-21 L8,-21 M-11,-10 L10,-10 L-10,11 L11,11" fill="none" stroke="#000" stroke-width="5" stroke-linejoin="round"/></g>
<text transform="translate(874,576) rotate(-40)" text-anchor="middle" font-size="18" font-weight="900" fill="#000">宝正纵横</text>
<g transform="translate(500,525) rotate(-35)"><path d="M-10,-21 L-21,-21 L-21,21 L21,21 L21,-21 L8,-21 M-11,-10 L10,-10 L-10,11 L11,11" fill="none" stroke="#000" stroke-width="5" stroke-linejoin="round"/></g>
<text transform="translate(527,564) rotate(-40)" text-anchor="middle" font-size="18" font-weight="900" fill="#000">宝正纵横</text>
<g transform="translate(866,87) rotate(-35)"><path d="M-10,-21 L-21,-21 L-21,21 L21,21 L21,-21 L8,-21 M-11,-10 L10,-10 L-10,11 L11,11" fill="none" stroke="#000" stroke-width="5" stroke-linejoin="round"/></g>
<text transform="translate(893,126) rotate(-40)" text-anchor="middle" font-size="18" font-weight="900" fill="#000">宝正纵横</text>
<g transform="translate(70,350) rotate(-35)"><path d="M-10,-21 L-21,-21 L-21,21 L21,21 L21,-21 L8,-21 M-11,-10 L10,-10 L-10,11 L11,11" fill="none" stroke="#000" stroke-width="5" stroke-linejoin="round"/></g>
<text transform="translate(97,389) rotate(-40)" text-anchor="middle" font-size="18" font-weight="900" fill="#000">宝正纵横</text>
<g transform="translate(545,287) rotate(-35)"><path d="M-10,-21 L-21,-21 L-21,21 L21,21 L21,-21 L8,-21 M-11,-10 L10,-10 L-10,11 L11,11" fill="none" stroke="#000" stroke-width="5" stroke-linejoin="round"/></g>
<text transform="translate(572,326) rotate(-40)" text-anchor="middle" font-size="18" font-weight="900" fill="#000">宝正纵横</text>
<g transform="translate(1055,445) rotate(-35)"><path d="M-10,-21 L-21,-21 L-21,21 L21,21 L21,-21 L8,-21 M-11,-10 L10,-10 L-10,11 L11,11" fill="none" stroke="#000" stroke-width="5" stroke-linejoin="round"/></g>
<text transform="translate(1082,484) rotate(-40)" text-anchor="middle" font-size="18" font-weight="900" fill="#000">宝正纵横</text>
</g>
</svg>
<div class="abs leg" style="left:140px;top:536px;"><span class="sq" style="background:#4472c4"></span>煤炭</div>
<div class="abs leg" style="left:190.5px;top:536px;"><span class="sq" style="background:#ed7d31"></span>石油</div>
<div class="abs leg" style="left:244px;top:536px;"><span class="sq" style="background:#a5a5a5"></span>天然气</div>
<div class="abs leg" style="left:304.5px;top:536px;"><span class="sq" style="background:#ffc000"></span>核能</div>
<div class="abs leg" style="left:356.5px;top:536px;"><span class="sq" style="background:#70ad47"></span>可再生能源</div>
<div class="abs leg" style="left:611px;top:513.5px;"><span class="ln" style="background:#000"></span>煤炭</div>
<div class="abs leg" style="left:676.5px;top:513.5px;"><span class="ln" style="background:#e7843c"></span>石油</div>
<div class="abs leg" style="left:742px;top:513.5px;"><span class="ln" style="background:#e0141c"></span>天然气</div>
<div class="abs leg" style="left:820px;top:513.5px;"><span class="ln" style="background:#fcc10e"></span>核能</div>
<div class="abs leg" style="left:885px;top:513.5px;"><span class="ln" style="background:#12a54b"></span>可再生能源</div>
<div class="abs cap" style="left:99.5px;top:569.5px;"><span class="cd">1965-2020</span>年<span class="red">中国</span>一次能源消费量变化（<span class="cd">EJ</span>，<span class="cd">10<sup>18</sup>J</span>）</div>
<div class="abs cap" style="left:643.5px;top:569.5px;"><span class="cd">1965-2020</span>年<span class="red">中国</span>一次能源消费量及结构变化</div>
</body></html>
